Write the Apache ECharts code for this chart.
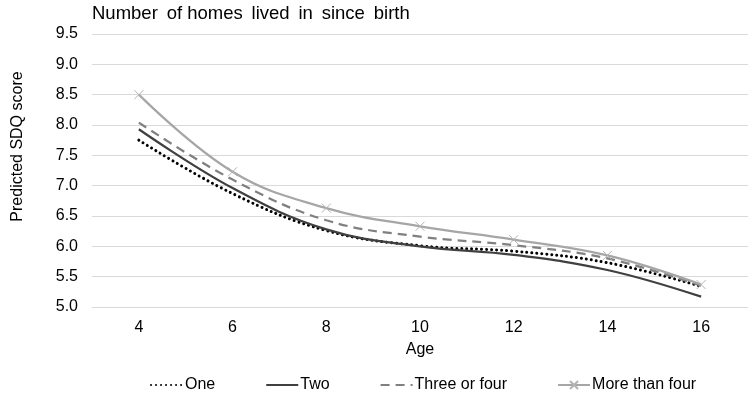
<!DOCTYPE html>
<html><head><meta charset="utf-8">
<script src="https://cdn.jsdelivr.net/npm/echarts@6/dist/echarts.min.js"></script>
<style>html,body{margin:0;padding:0;background:#fff}#c{width:748px;height:394px}</style>
</head><body><div id="c"></div>
<script>
const ages = ['4','6','8','10','12','14','16'];
const one = [7.75, 6.87, 6.26, 6.01, 5.92, 5.73, 5.34];
const two = [7.93, 6.96, 6.28, 6.00, 5.86, 5.61, 5.17];
const threeOrFour = [8.04, 7.10, 6.43, 6.16, 6.02, 5.80, 5.35];
const moreThanFour = [8.50, 7.23, 6.63, 6.33, 6.11, 5.85, 5.37];
const yTicks = [5.0, 9.5, 0.5];

const font = 'Liberation Sans, Arial, sans-serif';
const chart = echarts.init(document.getElementById('c'));
chart.setOption({
  animation: false,
  title: { text: 'Number\u2009 of homes\u2009 lived\u2009 in\u2009 since\u2009 birth', left: 87, top: -1,
    textStyle: { fontFamily: font, fontSize: 18.5, fontWeight: 'normal', color: '#000' } },
  grid: { left: 92, right: -8, top: 34, bottom: 87 },
  legend: {
    top: 372, left: 145, itemWidth: 32, itemHeight: 10, itemGap: 50,
    textStyle: { fontFamily: font, fontSize: 16, color: '#000', padding: [0,0,0,-3] },
    data: ['One', 'Two', 'Three or four', 'More than four']
  },
  xAxis: {
    type: 'category', data: ages, boundaryGap: true,
    name: 'Age', nameLocation: 'middle', nameGap: 35,
    nameTextStyle: { fontFamily: font, fontSize: 16, color: '#000' },
    axisLine: { lineStyle: { color: '#d9d9d9' } },
    axisTick: { show: false },
    axisLabel: { fontFamily: font, fontSize: 16, color: '#000', margin: 13 }
  },
  yAxis: {
    type: 'value', min: yTicks[0], max: yTicks[1], interval: yTicks[2],
    name: 'Predicted SDQ score', nameLocation: 'middle', nameGap: 66, nameRotate: 90,
    nameTextStyle: { fontFamily: font, fontSize: 16, color: '#000', padding: [0,0,0,48] },
    axisLine: { show: false }, axisTick: { show: false },
    axisLabel: { fontFamily: font, fontSize: 16, color: '#000', margin: 14,
      formatter: v => v.toFixed(1) },
    splitLine: { lineStyle: { color: '#d9d9d9', width: 1 } }
  },
  series: [
    { name: 'One', type: 'line', data: one, smooth: 0.4, symbol: 'none',
      lineStyle: { color: '#000', width: 3, type: [0.01, 5], cap: 'round' },
      itemStyle: { color: 'transparent', borderWidth: 0 } },
    { name: 'Two', type: 'line', data: two, smooth: 0.4, symbol: 'none',
      lineStyle: { color: '#404040', width: 2.25 },
      itemStyle: { color: 'transparent', borderWidth: 0 } },
    { name: 'Three or four', type: 'line', data: threeOrFour, smooth: 0.4, symbol: 'none',
      lineStyle: { color: '#808080', width: 2.25, type: [9, 6] },
      itemStyle: { color: 'transparent', borderWidth: 0 } },
    { name: 'More than four', type: 'line', data: moreThanFour, smooth: 0.4,
      symbol: 'path://M0,0L10,10M10,0L0,10', symbolSize: 9, showSymbol: true,
      lineStyle: { color: '#a6a6a6', width: 2.25 },
      itemStyle: { color: 'none', borderColor: '#b3b3b3', borderWidth: 1 } }
  ]
});
</script></body></html>
